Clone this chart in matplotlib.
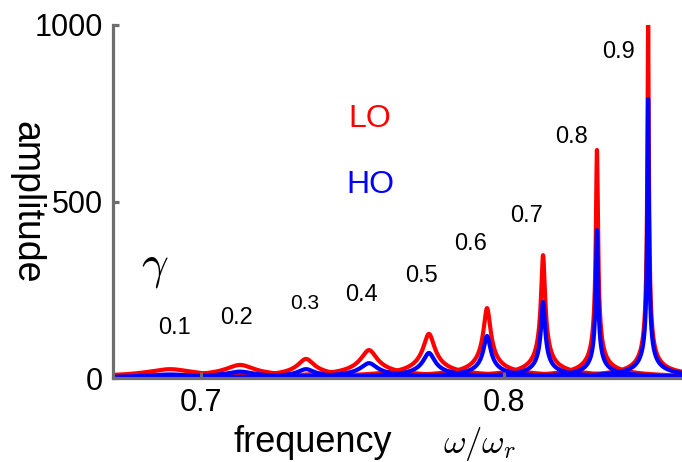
import numpy as np
import matplotlib
matplotlib.use('Agg')
import matplotlib.pyplot as plt

plt.rcParams['font.family'] = ['Liberation Sans', 'DejaVu Sans']
plt.rcParams['mathtext.fontset'] = 'cm'

# damping values and resonance peaks
gammas = ['0.1', '0.2', '0.3', '0.4', '0.5', '0.6', '0.7', '0.8', '0.9']
centers = [0.6898, 0.7129, 0.7347, 0.7555, 0.7753, 0.7945, 0.8130, 0.8308, 0.8477]
lo_peak = [25, 37, 54, 79, 125, 198, 348, 646, 1000]
ho_peak = [10, 18, 25, 42, 71, 119, 215, 419, 790]
widths = [0.007, 0.0045, 0.0026, 0.0026, 0.0018, 0.0011, 0.0006, 0.0003, 0.0002]

# where the gamma labels sit (data coords)
lab_x = [0.6911, 0.7116, 0.7344, 0.7529, 0.7727, 0.7889, 0.8075, 0.8223, 0.8378]
lab_y = [142, 170, 210, 235, 290, 380, 459, 683, 924]
lab_size = [17, 17, 15, 17, 17, 17, 17, 17, 17]

xmin, xmax = 0.67093, 0.85890


def response(f, c, h, w):
    return h/np.sqrt(1.0 + ((f - c)/w)**2)


f = np.sort(np.concatenate([np.linspace(xmin, xmax, 30000), centers]))

fig = plt.figure(figsize=(6.82, 4.62), dpi=100)
ax = fig.add_axes([113/682, 1 - 378/462, 569/682, 353/462])

for c, h, w in zip(centers, lo_peak, widths):
    ax.plot(f, response(f, c, h, w), color='#ff0000', lw=3, solid_capstyle='butt')
for c, h, w in zip(centers, ho_peak, widths):
    ax.plot(f, response(f, c, h, w), color='#0000ff', lw=3, solid_capstyle='butt')

ax.set_xlim(xmin, xmax)
ax.set_ylim(0, 1000)

gray = '#6e6e6e'
for s in ['top', 'right']:
    ax.spines[s].set_visible(False)
for s in ['left', 'bottom']:
    ax.spines[s].set_color(gray)
    ax.spines[s].set_linewidth(2.3)
    ax.spines[s].set_zorder(5)
ax.set_axisbelow(False)

ax.set_xticks([0.7, 0.8])
ax.set_xticklabels(['0.7', '0.8'])
ax.set_yticks([0, 500, 1000])
ax.set_yticklabels(['0', '500', '1000'])
ax.tick_params(direction='in', length=4, width=2.3, color=gray, labelsize=22, pad=7)

for g, x, y, s in zip(gammas, lab_x, lab_y, lab_size):
    ax.text(x, y, g, fontsize=s, ha='center', va='center')

ax.text(0.7558, 735, 'LO', color='#ff0000', fontsize=23, ha='center', va='center')
ax.text(0.7561, 546, 'HO', color='#0000ff', fontsize=23, ha='center', va='center')

fig.text(155/682, 1 - 268/462, r'$\gamma$', fontsize=34, ha='center', va='center')
fig.text(313/682, 1 - 442/462, 'frequency', fontsize=26, ha='center', va='center')
fig.text(480/682, 1 - 444/462, r'$\omega/\omega_r$', fontsize=25, ha='center', va='center')
fig.text(26/682, 1 - 202/462, 'amplitude', fontsize=27, rotation=270, ha='center', va='center')

fig.savefig('out.png', dpi=100)
